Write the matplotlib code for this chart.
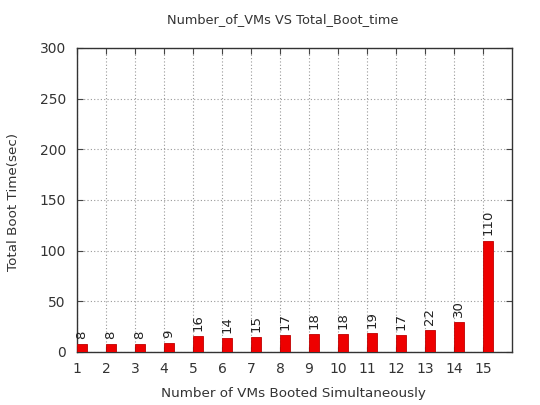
import matplotlib
matplotlib.use('Agg')
import matplotlib.pyplot as plt

# data
vms = [1, 2, 3, 4, 5, 6, 7, 8, 9, 10, 11, 12, 13, 14, 15]
boot_time = [8, 8, 8, 9, 16, 14, 15, 17, 18, 18, 19, 17, 22, 30, 110]

plt.rcParams['font.family'] = 'DejaVu Sans'

fig = plt.figure(figsize=(5.4, 4.05), dpi=100)
ax = fig.add_axes([0.1426, 0.1309, 0.8055, 0.7506])

bar_w = 0.33
ax.bar(vms, boot_time, width=bar_w, align='edge', color='#ee0000',
       edgecolor='#c00000', linewidth=0.6, zorder=3)

# rotated value labels
for x, v in zip(vms, boot_time):
    ax.text(x + bar_w / 2, v + 5, str(v), rotation=90, ha='center', va='bottom',
            fontsize=9.5, color='#222222')

ax.set_xlim(1, 16)
ax.set_ylim(0, 300)
ax.set_xticks(vms)
ax.set_yticks(range(0, 301, 50))
ax.tick_params(direction='in', top=True, right=True, length=4, labelsize=10,
               color='#444444', labelcolor='#333333')
ax.tick_params(axis='x', pad=7)
ax.tick_params(axis='y', pad=8)

ax.grid(True, linestyle=(0, (1, 2)), color='#999999', linewidth=0.8, zorder=0)
for s in ax.spines.values():
    s.set_color('#333333')
    s.set_linewidth(1.0)

fig.text(283 / 540, 1 - 20 / 405, 'Number_of_VMs VS Total_Boot_time', fontsize=9.3,
         color='#333333', ha='center', va='center')
fig.text(293.5 / 540, 1 - 393 / 405, 'Number of VMs Booted Simultaneously', fontsize=9.7,
         color='#333333', ha='center', va='center')
fig.text(14 / 540, 1 - 202 / 405, 'Total Boot Time(sec)', fontsize=9.7, rotation=90,
         color='#333333', ha='center', va='center')

fig.savefig('out.png', dpi=100)
